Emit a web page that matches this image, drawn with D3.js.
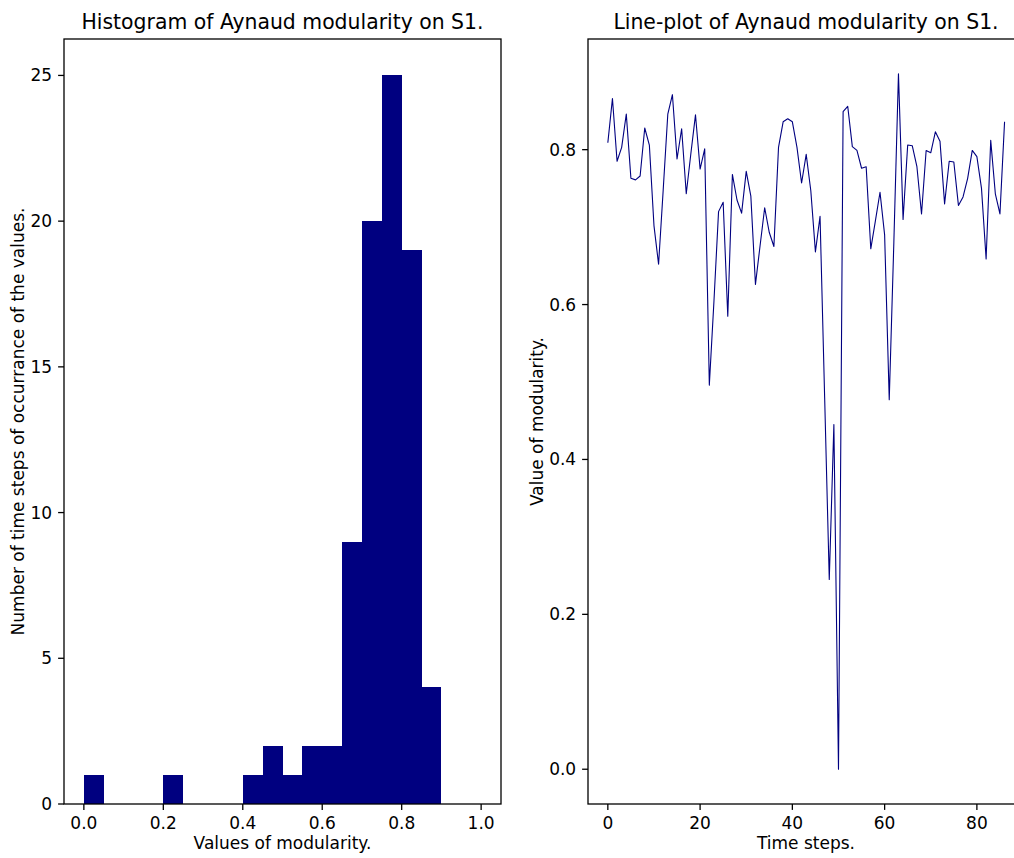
<!DOCTYPE html>
<html>
<head>
<meta charset="utf-8">
<script src="https://cdn.jsdelivr.net/npm/d3@7"></script>
<style>
  body { margin: 0; background: #fff; }
  text { font-family: "DejaVu Sans", sans-serif; fill: #000; }
</style>
</head>
<body>
<div class="chart"></div>
<script>
// histogram bins (start of each 0.05 wide bin) and counts
const binStarts = [0, 0.05, 0.1, 0.15, 0.2, 0.25, 0.3, 0.35, 0.4, 0.45, 0.5, 0.55, 0.6, 0.65, 0.7, 0.75, 0.8, 0.85, 0.9, 0.95];
const binCounts = [1, 0, 0, 0, 1, 0, 0, 0, 1, 2, 1, 2, 2, 9, 20, 25, 19, 4, 0, 0];
const binWidth = 0.05;
const histXTicks = [0, 0.2, 0.4, 0.6, 0.8, 1.0];
const histYTicks = [0, 5, 10, 15, 20, 25];

// modularity per time step
const modularity = [
  0.809, 0.866, 0.785, 0.803, 0.846, 0.763, 0.761, 0.766, 0.828, 0.806,
  0.702, 0.652, 0.748, 0.846, 0.871, 0.788, 0.827, 0.743, 0.795, 0.845,
  0.775, 0.801, 0.496, 0.604, 0.720, 0.732, 0.585, 0.768, 0.735, 0.718,
  0.772, 0.740, 0.626, 0.676, 0.725, 0.693, 0.675, 0.803, 0.836, 0.840,
  0.836, 0.803, 0.757, 0.794, 0.747, 0.668, 0.714, 0.480, 0.245, 0.445,
  0.000, 0.849, 0.856, 0.804, 0.799, 0.776, 0.778, 0.672, 0.708, 0.745,
  0.690, 0.477, 0.680, 0.898, 0.710, 0.806, 0.805, 0.778, 0.717, 0.799,
  0.796, 0.823, 0.811, 0.730, 0.785, 0.784, 0.728, 0.739, 0.763, 0.799,
  0.791, 0.750, 0.659, 0.812, 0.743, 0.717, 0.836
];
const lineXTicks = [0, 20, 40, 60, 80];
const lineYTicks = [0, 0.2, 0.4, 0.6, 0.8];

const W = 1014, H = 858;
const navy = '#000080';
const tickLen = 5.9, tickPad = 5.9;
const fs = 17, titleFs = 20.4;

const svg = d3.select('.chart').append('svg')
    .attr('width', W)
    .attr('height', H);

// draw a matplotlib style box with ticks
function drawAxes(g, x, y, xTicks, yTicks, xFmt, yFmt) {
    const [x0, x1] = x.range();
    const [y0, y1] = y.range();
    g.append('rect')
        .attr('x', x0).attr('y', y1)
        .attr('width', x1 - x0).attr('height', y0 - y1)
        .attr('fill', 'none').attr('stroke', '#000').attr('stroke-width', 1.3);

    xTicks.forEach(t => {
        const px = x(t);
        g.append('line').attr('x1', px).attr('x2', px)
            .attr('y1', y0).attr('y2', y0 + tickLen)
            .attr('stroke', '#000').attr('stroke-width', 1.3);
        g.append('text').attr('x', px).attr('y', y0 + tickLen + tickPad + 13)
            .attr('text-anchor', 'middle').attr('font-size', fs + 'px')
            .text(xFmt(t));
    });
    yTicks.forEach(t => {
        const py = y(t);
        g.append('line').attr('x1', x0 - tickLen).attr('x2', x0)
            .attr('y1', py).attr('y2', py)
            .attr('stroke', '#000').attr('stroke-width', 1.3);
        g.append('text').attr('x', x0 - tickLen - tickPad).attr('y', py + 6)
            .attr('text-anchor', 'end').attr('font-size', fs + 'px')
            .text(yFmt(t));
    });
}

/*      Histogram       */
const hx = d3.scaleLinear().domain([-0.05, 1.05]).range([64, 501]);
const hy = d3.scaleLinear().domain([0, 26.25]).range([804, 39]);
const hist = svg.append('g');

hist.selectAll('rect.bar')
    .data(binStarts.map((s, i) => ({ s: s, c: binCounts[i] })).filter(d => d.c > 0))
    .enter()
    .append('rect')
    .attr('class', 'bar')
    .attr('x', d => hx(d.s))
    .attr('width', d => hx(d.s + binWidth) - hx(d.s))
    .attr('y', d => hy(d.c))
    .attr('height', d => hy(0) - hy(d.c))
    .attr('fill', navy)
    .attr('shape-rendering', 'crispEdges');

drawAxes(hist, hx, hy, histXTicks, histYTicks, d3.format('.1f'), d3.format('d'));

hist.append('text').attr('x', 282.5).attr('y', 29)
    .attr('text-anchor', 'middle').attr('font-size', titleFs + 'px')
    .text('Histogram of Aynaud modularity on S1.');
hist.append('text').attr('x', 282.5).attr('y', 849)
    .attr('text-anchor', 'middle').attr('font-size', fs + 'px')
    .text('Values of modularity.');
hist.append('text')
    .attr('transform', 'translate(24, 421.5) rotate(-90)')
    .attr('text-anchor', 'middle').attr('font-size', fs + 'px')
    .text('Number of time steps of occurrance of the values.');

/*      Line plot       */
const n = modularity.length - 1;
const lx = d3.scaleLinear().domain([-0.05 * n, n * 1.05]).range([588, 1024.4]);
const yMax = d3.max(modularity), yMin = d3.min(modularity);
const yPad = (yMax - yMin) * 0.05;
const ly = d3.scaleLinear().domain([yMin - yPad, yMax + yPad]).range([804, 39]);
const linePlot = svg.append('g');

linePlot.append('path')
    .datum(modularity)
    .attr('fill', 'none')
    .attr('stroke', navy)
    .attr('stroke-width', 1.1)
    .attr('stroke-linejoin', 'round')
    .attr('d', d3.line().x((d, i) => lx(i)).y(d => ly(d)));

drawAxes(linePlot, lx, ly, lineXTicks, lineYTicks, d3.format('d'), d3.format('.1f'));

linePlot.append('text').attr('x', 806).attr('y', 29)
    .attr('text-anchor', 'middle').attr('font-size', titleFs + 'px')
    .text('Line-plot of Aynaud modularity on S1.');
linePlot.append('text').attr('x', 806).attr('y', 849)
    .attr('text-anchor', 'middle').attr('font-size', fs + 'px')
    .text('Time steps.');
linePlot.append('text')
    .attr('transform', 'translate(543, 421.5) rotate(-90)')
    .attr('text-anchor', 'middle').attr('font-size', fs + 'px')
    .text('Value of modularity.');
</script>
</body>
</html>
